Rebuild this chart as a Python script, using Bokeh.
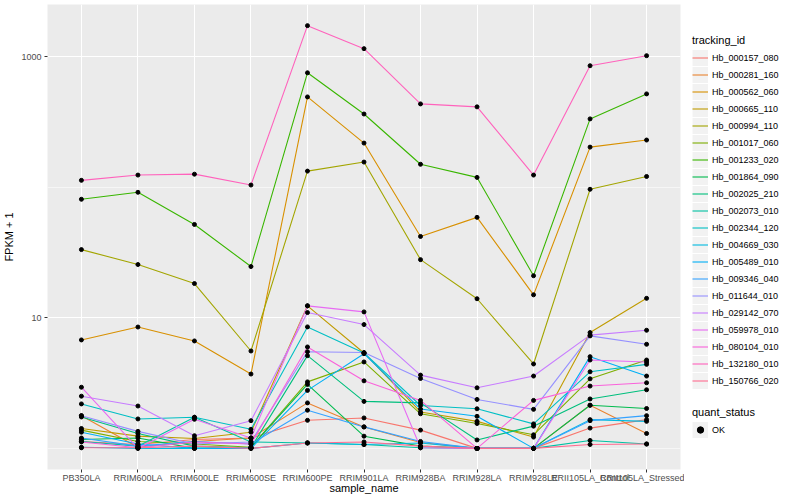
import math
from bokeh.plotting import figure
from bokeh.layouts import row
from bokeh.models import (ColumnDataSource, FactorRange, Range1d, FixedTicker,
                          PrintfTickFormatter, Legend, LegendItem)
from bokeh.embed import file_html
from bokeh.resources import INLINE

samples = ["PB350LA", "RRIM600LA", "RRIM600LE", "RRIM600SE", "RRIM600PE",
           "RRIM901LA", "RRIM928BA", "RRIM928LA", "RRIM928LE",
           "RRII105LA_Control", "RRII105LA_Stressed"]

tracking_ids = ["Hb_000157_080", "Hb_000281_160", "Hb_000562_060", "Hb_000665_110",
                "Hb_000994_110", "Hb_001017_060", "Hb_001233_020", "Hb_001864_090",
                "Hb_002025_210", "Hb_002073_010", "Hb_002344_120", "Hb_004669_030",
                "Hb_005489_010", "Hb_009346_040", "Hb_011644_010", "Hb_029142_070",
                "Hb_059978_010", "Hb_080104_010", "Hb_132180_010", "Hb_150766_020"]

# FPKM + 1 per sample (order of `samples`)
hb_000157_080 = [1.13, 1.07, 1.17, 1.20, 1.64, 1.71, 1.38, 1.00, 1.00, 1.43, 1.66]
hb_000281_160 = [1.78, 1.02, 1.13, 1.20, 2.23, 1.46, 1.11, 1.00, 1.00, 2.14, 1.30]
hb_000562_060 = [6.77, 8.5, 6.65, 3.71, 492, 218, 42, 58.8, 15, 203, 230]
hb_000665_110 = [1.42, 1.24, 1.19, 1.33, 12.35, 5.38, 1.90, 1.61, 1.22, 7.71, 14.1]
hb_000994_110 = [33.3, 25.6, 18.3, 5.57, 133, 156, 27.9, 14.0, 4.43, 96.5, 121]
hb_001017_060 = [1.38, 1.13, 1.08, 1.02, 3.23, 4.59, 1.84, 1.55, 1.27, 3.41, 4.75]
hb_001233_020 = [80.9, 91.5, 51.9, 24.7, 753, 364, 150, 119, 21.0, 334, 519]
hb_001864_090 = [1.17, 1.20, 1.00, 1.02, 3.09, 1.24, 1.04, 1.00, 1.00, 2.14, 2.02]
hb_002025_210 = [1.74, 1.30, 1.04, 1.01, 5.13, 2.29, 2.23, 1.16, 1.48, 2.39, 2.81]
hb_002073_010 = [1.13, 1.04, 1.73, 1.12, 1.10, 1.07, 1.01, 1.00, 1.00, 1.15, 1.08]
hb_002344_120 = [2.19, 1.68, 1.73, 1.40, 8.52, 5.38, 2.13, 2.01, 1.54, 3.86, 4.40]
hb_004669_030 = [1.02, 1.00, 1.00, 1.00, 1.10, 1.07, 1.10, 1.00, 1.00, 1.66, 1.61]
hb_005489_010 = [1.33, 1.08, 1.00, 1.00, 2.78, 5.31, 2.00, 1.76, 1.00, 5.04, 3.58]
hb_009346_040 = [1.20, 1.04, 1.13, 1.08, 1.96, 1.46, 1.13, 1.00, 1.00, 1.63, 1.78]
hb_011644_010 = [1.78, 1.35, 1.08, 1.12, 5.50, 5.42, 3.43, 2.37, 1.99, 7.27, 6.27]
hb_029142_070 = [2.51, 2.11, 1.25, 1.63, 10.97, 8.88, 3.64, 2.91, 3.58, 7.37, 8.03]
hb_059978_010 = [2.94, 1.00, 1.67, 1.20, 12.35, 11.1, 1.01, 1.00, 1.00, 4.75, 4.59]
hb_080104_010 = [1.12, 1.01, 1.12, 1.08, 5.98, 3.29, 2.33, 1.00, 2.33, 3.00, 3.18]
hb_132180_010 = [113, 124, 126, 104, 1730, 1153, 435, 413, 124, 853, 1018]
hb_150766_020 = [1.01, 1.01, 1.04, 1.00, 1.10, 1.12, 1.04, 1.00, 1.00, 1.07, 1.08]

series = [hb_000157_080, hb_000281_160, hb_000562_060, hb_000665_110, hb_000994_110,
          hb_001017_060, hb_001233_020, hb_001864_090, hb_002025_210, hb_002073_010,
          hb_002344_120, hb_004669_030, hb_005489_010, hb_009346_040, hb_011644_010,
          hb_029142_070, hb_059978_010, hb_080104_010, hb_132180_010, hb_150766_020]

colors = ["#F8766D", "#EA8331", "#D89000", "#C09B00", "#A3A500", "#7CAE00", "#39B600",
          "#00BB4E", "#00BF7D", "#00C1A3", "#00BFC4", "#00BAE0", "#00B0F6", "#35A2FF",
          "#9590FF", "#C77CFF", "#E76BF3", "#FA62DB", "#FF62BC", "#FF6C91"]

quant_status = "OK"

allv = [v for s in series for v in s]
lo, hi = math.log10(min(allv)), math.log10(max(allv))
pad = 0.05 * (hi - lo)

FONT = "Liberation Sans"
H = 496

p = figure(width=684, height=H,
           x_range=FactorRange(factors=samples, range_padding=0.2 / len(samples)),
           y_range=Range1d(10 ** (lo - pad), 10 ** (hi + pad)),
           y_axis_type="log", output_backend="svg", toolbar_location=None,
           min_border_left=42, min_border_right=4, min_border_top=4, min_border_bottom=20,
           background_fill_color="#EBEBEB", border_fill_color="white")
p.outline_line_color = None

p.yaxis.ticker = FixedTicker(ticks=[10, 1000], minor_ticks=[1, 100, 10000])
p.yaxis.formatter = PrintfTickFormatter(format="%d")
p.xgrid.grid_line_color = "white"
p.xgrid.grid_line_width = 1.1
p.ygrid.grid_line_color = "white"
p.ygrid.grid_line_width = 1.1
p.ygrid.minor_grid_line_color = "white"
p.ygrid.minor_grid_line_width = 0.55

for ax in (p.xaxis[0], p.yaxis[0]):
    ax.axis_line_color = None
    ax.major_tick_line_color = "#333333"
    ax.major_tick_out = 3
    ax.major_tick_in = 0
    ax.minor_tick_line_color = None
    ax.major_label_text_color = "#4D4D4D"
    ax.major_label_text_font_size = "9px"
    ax.major_label_text_font = FONT
    ax.major_label_standoff = 2
    ax.axis_label_text_font_size = "11px"
    ax.axis_label_text_font = FONT
    ax.axis_label_text_font_style = "normal"
    ax.axis_label_text_color = "black"
p.xaxis.major_label_standoff = 0
p.xaxis.axis_label_standoff = -4
p.yaxis.axis_label_standoff = 3
p.xaxis.axis_label = "sample_name"
p.yaxis.axis_label = "FPKM + 1"

for vals, col in zip(series, colors):
    p.line(x=samples, y=vals, line_color=col, line_width=1.1)

px, py = [], []
for vals in series:
    px.extend(samples)
    py.extend(vals)
p.scatter(x="x", y="y", source=ColumnDataSource(data=dict(x=px, y=py)),
          size=4, color="black")

# legend panel (its frame is aligned with the main plot's frame)
lf = figure(width=100, height=H, x_range=Range1d(0, 1), y_range=Range1d(0, 1),
            output_backend="svg", toolbar_location=None, min_border=0,
            x_axis_location=None, y_axis_location=None,
            background_fill_color="white", border_fill_color="white")
lf.outline_line_color = None
lf.xgrid.visible = False
lf.ygrid.visible = False

offscreen = lambda: ColumnDataSource(data=dict(x=[-5, -4], y=[-5, -5]))
key_bg = lf.line(x="x", y="y", source=offscreen(), line_color="#F2F2F2", line_width=16)
items = []
for tid, col in zip(tracking_ids, colors):
    r = lf.line(x="x", y="y", source=offscreen(), line_color=col, line_width=1.1)
    items.append(LegendItem(label=tid, renderers=[key_bg, r]))
dot = lf.scatter(x="x", y="y", source=offscreen(), size=4, color="black")


def style_legend(lg):
    lg.border_line_color = None
    lg.background_fill_alpha = 0
    lg.padding = 2
    lg.margin = 0
    lg.spacing = 0
    lg.glyph_width = 16
    lg.glyph_height = 17
    lg.label_height = 17
    lg.label_standoff = 4
    lg.label_text_font_size = "9px"
    lg.label_text_font = FONT
    lg.label_text_color = "black"
    lg.title_text_font_size = "11px"
    lg.title_text_font = FONT
    lg.title_text_font_style = "normal"
    lg.title_text_color = "black"
    lg.title_standoff = 3


leg1 = Legend(items=items, title="tracking_id", location=(8, 80))
style_legend(leg1)
lf.add_layout(leg1)

leg2 = Legend(items=[LegendItem(label=quant_status, renderers=[key_bg, dot])],
              title="quant_status", location=(8, 31))
style_legend(leg2)
lf.add_layout(leg2)

open("out.html", "w").write(file_html(row(p, lf), INLINE))
